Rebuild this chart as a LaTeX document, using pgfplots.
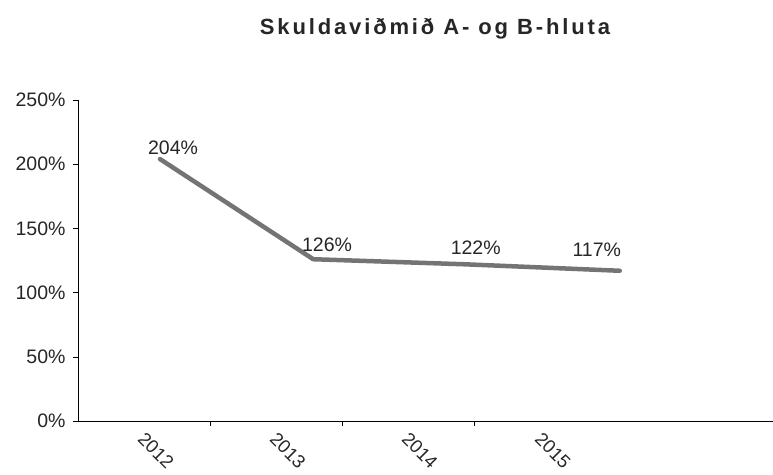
\documentclass[border=0pt]{standalone}
\usepackage{pgfplots}
\pgfplotsset{compat=1.18}
\usepackage{fontspec}
\setmainfont{Liberation Sans}
\newfontfamily\titlefont[LetterSpace=13]{Liberation Sans}
\definecolor{txt}{HTML}{262626}
\definecolor{ln}{HTML}{747474}
\begin{document}
\begin{tikzpicture}
\useasboundingbox (-78pt,-53pt) rectangle (695pt,421pt);
\begin{axis}[
  scale only axis, width=695pt, height=321pt,
  at={(0pt,0pt)}, anchor=south west,
  xmin=-0.535, xmax=4.0, ymin=0, ymax=250,
  axis lines=left, axis line style={-, black, line width=0.8pt},
  tick align=outside,
  /pgf/number format/assume math mode=true,
  tick label style={font=\fontsize{19.5}{22}\selectfont, text=txt},
  ytick={0,50,100,150,200,250},
  yticklabel={\pgfmathprintnumber{\tick}\%},
  yticklabel style={xshift=-4pt},
  major tick length=5pt,
  tick style={black, line width=0.6pt},
  xtick={0.326,1.19,2.05},
  xticklabels={},
  xticklabel style={rotate=-45, anchor=center, font=\fontsize{18.5}{21}\selectfont, xshift=21pt, yshift=-21pt},
  extra x ticks={-0.026,0.835,1.696,2.564},
  extra x tick labels={2012,2013,2014,2015},
  extra x tick style={major tick length=0pt},
  clip=false,
]
\addplot[ln, line width=4.5pt, line join=round, line cap=round, mark=none]
  coordinates {(0,204) (1,126) (2,122) (3,117)};
\addplot[draw=none, mark=none, nodes near coords, point meta=explicit symbolic,
  nodes near coords style={anchor=center, text=txt, font=\fontsize{19.5}{22}\selectfont}]
  coordinates {(0.085,212.6) [204\%] (1.09,137) [126\%] (2.06,134.7) [122\%] (2.85,133.2) [117\%]};
\end{axis}
\node[anchor=base, text=txt, font=\titlefont\bfseries\fontsize{22}{25}\selectfont] at (357pt,386pt) {Skuldaviðmið A- og B-hluta};
\end{tikzpicture}
\end{document}
